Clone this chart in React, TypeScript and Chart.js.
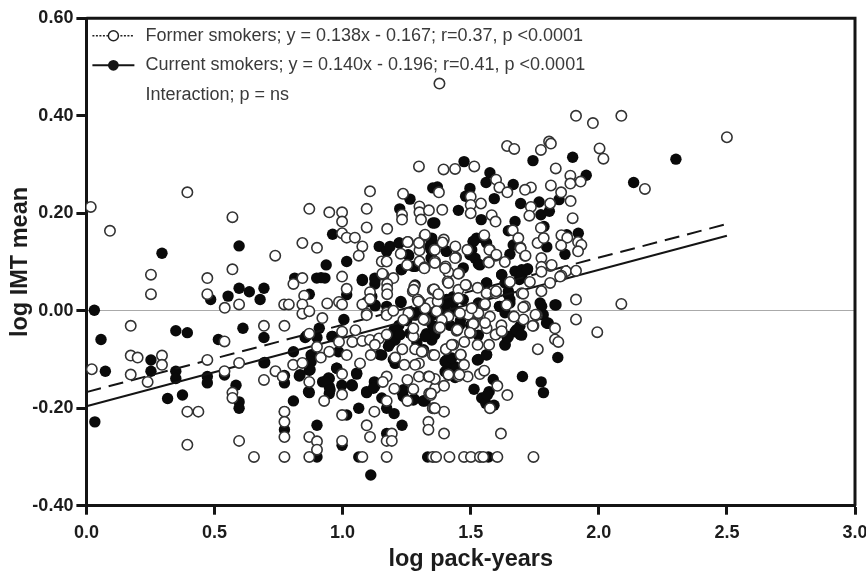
import React, { useEffect, useRef } from "react";
import { Chart, registerables } from "chart.js";

Chart.register(...registerables);

const xTickValues = [0, 0.5, 1, 1.5, 2, 2.5, 3];
const yTickValues = [-0.4, -0.2, 0, 0.2, 0.4, 0.6];
const xTitle = "log pack-years";
const yTitle = "log IMT mean";
const legendLines = [
  "Former smokers; y = 0.138x - 0.167; r=0.37, p <0.0001",
  "Current smokers; y = 0.140x - 0.196; r=0.41, p <0.0001",
  "Interaction; p = ns",
];
const fitX = [0, 2.5];
const formerFit = [-0.167, 0.178];
const currentFit = [-0.196, 0.154];

const formerPoints: number[][] = [
  [.017,.213],[.092,.164],[.394,.243],[.57,.192],[.252,.074],[.252,.034],[.472,.067],[.472,.034],[.54,.006],[.57,.085],
  [.596,.013],[.737,.113],[.772,.013],[.79,.013],[.843,.139],[.9,.129],[.87,.209],[.948,.202],[.998,.202],[.998,.183],
  [.998,.159],[1.016,.15],[1.048,.15],[1.077,.132],[1.063,.113],[1.094,.209],[1.094,.171],[1.107,.245],[1.174,.168],[1.236,.24],
  [1.298,.296],[1.232,.197],[1.232,.187],[1.3,.214],[1.3,.202],[1.306,.187],[1.337,.206],[1.255,.141],[1.3,.139],[1.32,.154],
  [1.3,.124],[1.227,.117],[1.153,.101],[1.172,.101],[1.252,.094],[1.3,.101],[1.32,.089],[.998,.07],[1.016,.045],[1.159,.074],
  [1.198,.067],[1.174,.055],[1.174,.045],[1.174,.034],[1.107,.038],[.843,.067],[.808,.055],[.85,.031],[.843,.013],[.843,-.006],
  [.87,-.001],[.921,-.015],[.94,.015],[.986,.018],[.998,.013],[1.077,.013],[1.094,-.006],[1.172,-.004],[1.274,.04],[1.28,.05],
  [1.3,.019],[1.342,.016],[1.352,.043],
  [1.378,.466],[1.911,.4],[1.977,.385],[2.088,.4],[2.5,.356],[2.18,.25],[1.642,.338],[1.67,.332],[1.806,.347],[1.813,.343],
  [1.774,.33],[2.003,.333],[2.018,.312],[1.832,.292],[1.889,.277],[1.889,.261],[1.929,.265],[1.813,.257],[1.853,.243],[1.89,.225],
  [1.81,.22],[1.735,.253],[1.712,.248],[1.735,.213],[1.729,.195],[1.898,.19],[1.394,.29],[1.439,.291],[1.514,.296],[1.599,.269],
  [1.612,.253],[1.643,.243],[1.376,.243],[1.5,.234],[1.5,.217],[1.54,.22],[1.5,.2],[1.582,.196],[1.597,.183],[1.389,.207],
  [1.774,.17],[1.664,.165],[1.686,.149],[1.694,.13],[1.712,.113],[1.761,.139],[1.785,.149],[1.776,.108],[1.811,.092],[1.776,.09],
  [1.776,.08],[1.854,.155],[1.877,.15],[1.853,.134],[1.919,.141],[1.932,.135],[1.919,.122],[1.872,.081],[1.911,.082],[1.854,.072],
  [1.911,.023],[2.088,.014],[1.553,.155],[1.487,.125],[1.44,.132],[1.443,.109],[1.395,.146],[1.39,.14],[1.359,.125],[1.298,.139],
  [1.254,.141],[1.361,.101],[1.402,.091],[1.413,.079],[1.455,.077],[1.569,.1],[1.575,.125],[1.597,.113],[1.633,.1],[1.653,.059],
  [1.731,.059],[1.699,.036],[1.776,.04],[1.81,.057],[1.155,.076],[1.41,.06],[1.358,.043],[1.371,.035],[1.452,.043],[1.482,.053],
  [1.527,.047],[1.562,.036],[1.597,.036],[1.293,.023],[1.371,.019],[1.452,.026],[1.553,.012],[1.712,.009],
  [.173,-.031],[.021,-.12],[.173,-.092],[.2,-.096],[.173,-.131],[.295,-.092],[.295,-.111],[.239,-.146],[.472,-.101],[.539,-.063],
  [.539,-.124],[.596,-.107],[.57,-.168],[.57,-.179],[.394,-.207],[.437,-.207],[.394,-.275],[.596,-.267],[.654,-.3],[.693,-.031],
  [.773,-.031],[.693,-.142],[.738,-.124],[.766,-.135],[.773,-.207],[.773,-.228],[.773,-.259],[.773,-.3],[.807,-.111],[.843,-.107],
  [.87,-.047],[.87,-.146],[.87,-.259],[.87,-.3],[.9,-.268],[.9,-.285],[.928,-.185],[.915,-.096],[.9,-.074],[.948,-.084],
  [.998,-.043],[.986,-.064],[1.016,-.091],[1.038,-.064],[1.05,-.04],[1.077,-.062],[1.107,-.06],[1.11,-.091],[1.142,-.057],[1.126,-.07],
  [1.172,-.049],[1.068,-.108],[.998,-.13],[.998,-.172],[.998,-.214],[.998,-.267],[1.094,-.235],[1.107,-.259],[1.077,-.3],[1.124,-.207],
  [1.172,-.135],[1.157,-.146],[1.202,-.16],[1.172,-.185],[1.253,-.185],[1.192,-.252],[1.172,-.267],[1.192,-.267],[1.172,-.3],[1.335,-.228],
  [1.335,-.244],[1.352,-.3],[1.205,-.096],[1.233,-.079],[1.241,-.111],[1.253,-.142],[1.276,-.161],[1.298,-.135],[1.335,-.135],[1.298,-.108],
  [1.283,-.111],[1.283,-.079],[1.313,-.084],[1.338,-.17],[1.352,-.2],[1.352,-.091],[1.276,-.053],[1.276,-.036],[1.322,-.019],[1.172,-.009],[1.094,-.009],
  [1.911,-.018],[1.994,-.044],[1.762,-.079],[1.829,-.036],[1.829,-.059],[1.842,-.064],[1.745,-.031],[1.758,-.009],[1.706,-.018],[1.667,-.012],
  [1.621,-.043],[1.598,-.049],[1.575,-.012],[1.562,-.036],[1.572,-.07],[1.527,-.009],[1.495,-.009],[1.513,-.026],[1.501,-.045],[1.445,-.041],
  [1.413,-.012],[1.376,-.036],[1.475,-.064],[1.432,-.07],[1.404,-.079],[1.527,-.07],[1.461,-.091],[1.474,-.111],[1.358,-.091],[1.309,-.084],
  [1.344,-.173],[1.361,-.159],[1.396,-.154],[1.358,-.2],[1.396,-.207],[1.396,-.252],[1.413,-.132],[1.488,-.135],[1.452,-.134],[1.536,-.13],
  [1.553,-.123],[1.604,-.154],[1.643,-.173],[1.575,-.2],[1.618,-.252],[1.365,-.3],[1.417,-.3],[1.474,-.3],[1.501,-.3],[1.536,-.3],
  [1.549,-.3],[1.604,-.3],[1.745,-.3],
  [1.322,.156],[1.36,.125],[1.439,.108],[1.573,.125],[1.6,.115],[1.571,.099],[1.695,.128],[1.714,.113],[1.705,.035],[1.816,.094],
  [1.849,.07],[1.319,.087],[1.36,.098],[1.4,.087],[1.452,.076],[1.413,.057],[1.48,.053],[1.599,.04],[1.357,.044],[1.374,.034],
  [1.705,.007],[1.753,-.008],[1.669,-.012],[1.53,-.005],[1.49,-.008],[1.458,-.005],[1.387,-.019],[1.51,-.027],[1.556,-.025],[1.62,-.03],
  [1.64,.012],[1.556,.014],[1.504,.005],[1.322,.005],[1.367,-.001],[1.107,.024],[1.277,.043],[1.296,.019],[1.257,-.005],[1.316,-.018],
  [1.237,-.019],[1.198,0],[1.38,-.034],[1.448,-.039],[1.497,-.045],[1.597,-.049],[1.621,-.042],[1.742,-.031],[1.403,-.079],[1.426,-.07],
  [1.461,-.09],[1.413,-.131],[1.456,-.131],[1.36,-.14],[1.338,-.135],[1.345,-.17],[1.36,-.2],
];

const currentPoints: number[][] = [
  [.031,.001],[.295,.118],[.485,.023],[.553,.03],[.596,.133],[.596,.046],[.636,.039],[.678,.023],[.693,.046],[.813,.067],
  [.87,.034],[.936,.094],[.899,.067],[.916,.068],[.931,.067],[.961,.157],[1.016,.101],[1.016,.033],[1.077,.062],[1.126,.067],
  [1.126,.055],[1.126,.012],[1.094,.018],[1.143,.132],[1.172,.122],[1.185,.132],[1.221,.139],[1.223,.209],[1.263,.229],[1.352,.252],
  [1.352,.18],[1.258,.113],[1.231,.085],[1.276,.091],[1.345,.125],[1.345,.108],[1.172,.009],[1.228,.017],[1.274,-.004],[1.005,-.018],
  [1.474,.306],[1.743,.308],[1.898,.315],[1.951,.278],[2.136,.263],[2.301,.311],[1.575,.283],[1.56,.263],[1.666,.259],[1.497,.251],
  [1.48,.235],[1.592,.23],[1.695,.22],[1.767,.223],[1.774,.197],[1.807,.204],[1.845,.228],[1.37,.254],[1.452,.206],[1.36,.18],
  [1.541,.187],[1.673,.183],[1.647,.164],[1.786,.173],[1.797,.131],[1.92,.159],[1.868,.116],[1.875,.156],[1.221,.139],[1.256,.115],
  [1.229,.084],[1.283,.091],[1.348,.149],[1.341,.132],[1.404,.122],[1.51,.142],[1.523,.149],[1.504,.125],[1.562,.139],[1.517,.108],
  [1.53,.096],[1.471,.088],[1.653,.116],[1.666,.135],[1.673,.081],[1.699,.084],[1.722,.086],[1.69,.064],[1.621,.074],[1.634,.057],
  [1.647,.04],[1.283,.053],[1.38,.023],[1.406,.023],[1.432,.016],[1.562,.057],[1.53,.016],[1.612,.009],[1.653,.023],[1.771,.016],[1.833,.012],
  [.057,-.059],[.074,-.124],[.033,-.228],[.252,-.101],[.252,-.124],[.349,-.041],[.394,-.045],[.349,-.124],[.349,-.139],[.317,-.18],
  [.375,-.173],[.515,-.059],[.472,-.135],[.472,-.148],[.539,-.132],[.584,-.153],[.596,-.187],[.596,-.2],[.611,-.036],[.693,-.055],
  [.693,-.107],[.773,-.148],[.773,-.133],[.773,-.207],[.773,-.244],[.808,-.084],[.808,-.185],[.831,-.134],[.854,-.055],[.877,-.091],
  [.877,-.105],[.87,-.122],[.87,-.168],[.9,-.055],[.909,-.036],[.9,-.235],[.9,-.3],[.922,-.146],[.948,-.139],[.948,-.156],
  [.948,-.17],[.961,-.053],[.977,-.118],[.984,-.084],[.997,-.153],[1.016,-.214],[.998,-.276],[1.038,-.154],[1.055,-.13],[1.063,-.2],
  [1.063,-.3],[1.094,-.168],[1.11,-.337],[1.124,-.146],[1.126,-.155],[1.153,-.091],[1.153,-.179],[1.172,-.2],[1.201,-.211],[1.232,-.235],
  [1.172,-.252],[1.185,-.067],[1.205,-.06],[1.205,-.108],[1.276,-.183],[1.315,-.185],[1.233,-.168],[1.332,-.3],[1.283,-.009],[1.328,-.047],[1.348,-.06],
  [1.84,-.096],[1.802,-.026],[1.693,-.049],[1.673,-.043],[1.634,-.07],[1.647,-.053],[1.702,-.135],[1.775,-.146],[1.784,-.168],[1.513,-.161],
  [1.588,-.141],[1.572,-.166],[1.543,-.179],[1.559,-.19],[1.591,-.194],[1.565,-.173],[1.569,-.3],[1.526,-.101],[1.562,-.091],[1.406,-.101],
  [1.419,-.111],[1.406,-.122],[1.439,-.115],[1.439,-.137],[1.322,-.185],[1.237,-.176],
  [1.3,0],[1.33,.012],[1.36,.005],[1.39,-.01],[1.25,-.02],[1.22,-.03],[1.2,-.04],[1.35,-.03],[1.42,-.03],[1.44,0],
  [1.46,-.02],[1.5,-.03],[1.53,-.05],[1.614,.009],[1.634,-.004],[1.783,-.008],[1.802,-.025],
  [1.227,.019],[1.283,-.008],[1.127,.01],[1.114,.029],[1.127,.064],[1.077,.064],[.696,-.106],[.88,-.09],[.873,-.104],[.834,-.131],
  [.873,-.121],[.867,-.166],[.945,-.138],[.977,-.118],[1.055,-.128],[.932,-.145],[.951,-.162],[1.036,-.152],[1.094,-.166],[1.12,-.159],
  [1.146,-.09],[1.198,-.1],[1.179,-.073],[1.224,-.049],[1.263,-.046],[1.29,-.066],[1.316,-.08],[.958,-.053],[.86,-.051],[1.237,-.162],
  [1.279,-.181],[1.316,-.185],[1.51,.142],[1.549,.149],[1.497,.115],[1.536,.094],[1.348,.142],[1.406,.122],[1.348,.108],[1.621,.074],
  [1.7,.074],[1.721,.084],[1.562,.057],[1.647,.033],[1.653,.016],[1.556,.012],[1.471,.023],[1.419,.023],[1.393,.016],[1.367,.016],
  [1.341,.002],[1.4,.009],[1.354,-.008],[1.432,.029],[1.829,.012],[1.777,.009],[1.777,-.008],[1.692,-.032],[1.4,-.104],[1.426,-.097],
  [1.4,-.125],[1.445,-.118],[1.53,-.1],[1.562,-.09],[1.634,-.07],[1.643,-.056],[1.679,-.039],[1.699,-.05],[1.796,-.025],[1.36,-.049],
  [1.322,-.053],[1.458,-.029],
];

const INK = "#141414";

const framePlugin = {
  id: "frameAndKey",
  afterDraw(chart: any) {
    const { ctx, chartArea: a } = chart;
    ctx.save();
    ctx.strokeStyle = INK;
    ctx.lineWidth = 3;
    ctx.beginPath();
    ctx.moveTo(a.left, a.top);
    ctx.lineTo(a.right, a.top);
    ctx.lineTo(a.right, a.bottom);
    ctx.stroke();

    const keyLeft = a.left + 6;
    const keyRight = a.left + 48;
    const keyMid = (keyLeft + keyRight) / 2;
    const textX = a.left + 59;
    const rows = [a.top + 17.5, a.top + 47, a.top + 77];

    ctx.lineWidth = 1.5;
    ctx.strokeStyle = "#222";
    ctx.setLineDash([2, 1.5]);
    ctx.beginPath();
    ctx.moveTo(keyLeft, rows[0]);
    ctx.lineTo(keyRight, rows[0]);
    ctx.stroke();
    ctx.setLineDash([]);
    ctx.beginPath();
    ctx.arc(keyMid, rows[0], 5, 0, Math.PI * 2);
    ctx.fillStyle = "#fff";
    ctx.fill();
    ctx.stroke();

    ctx.lineWidth = 2;
    ctx.strokeStyle = INK;
    ctx.beginPath();
    ctx.moveTo(keyLeft, rows[1]);
    ctx.lineTo(keyRight, rows[1]);
    ctx.stroke();
    ctx.beginPath();
    ctx.arc(keyMid, rows[1], 5.4, 0, Math.PI * 2);
    ctx.fillStyle = INK;
    ctx.fill();

    ctx.fillStyle = "#3a3a3a";
    ctx.font = '18px "Liberation Sans"';
    ctx.textBaseline = "middle";
    ctx.textAlign = "left";
    legendLines.forEach((line, i) => ctx.fillText(line, textX, rows[i]));
    ctx.restore();
  },
};

export default function App() {
  const ref = useRef<HTMLCanvasElement>(null);

  useEffect(() => {
    const chart = new Chart(ref.current as HTMLCanvasElement, {
      type: "scatter",
      data: {
        datasets: [
          {
            label: "Former smokers",
            data: formerPoints.map(([x, y]) => ({ x, y })),
            backgroundColor: "#fff",
            borderColor: "#333",
            borderWidth: 1.6,
            pointRadius: 5.2,
            order: 1,
          },
          {
            type: "line",
            label: "Former fit",
            data: fitX.map((x, i) => ({ x, y: formerFit[i] })),
            borderColor: INK,
            borderWidth: 2,
            borderDash: [15, 8],
            pointRadius: 0,
            order: 2,
          },
          {
            type: "line",
            label: "Current fit",
            data: fitX.map((x, i) => ({ x, y: currentFit[i] })),
            borderColor: INK,
            borderWidth: 2,
            pointRadius: 0,
            order: 3,
          },
          {
            label: "Current smokers",
            data: currentPoints.map(([x, y]) => ({ x, y })),
            backgroundColor: "#0a0a0a",
            borderColor: "#0a0a0a",
            borderWidth: 0,
            pointRadius: 5.7,
            order: 4,
          },
        ],
      } as any,
      options: {
        animation: false,
        responsive: false,
        layout: { padding: { left: 0, right: 11, top: 18.3, bottom: 0 } },
        plugins: { legend: { display: false }, tooltip: { enabled: false } },
        scales: {
          x: {
            type: "linear",
            min: 0,
            max: 3,
            afterBuildTicks: (s: any) => {
              s.ticks = xTickValues.map((value) => ({ value }));
            },
            afterFit: (s: any) => {
              s.height = 65.3;
              s.paddingLeft = 0;
              s.paddingRight = 0;
            },
            border: { color: INK, width: 3 },
            grid: { drawOnChartArea: false, tickColor: INK, tickWidth: 3, tickLength: 9 },
            ticks: {
              color: "#1c1c1c",
              padding: 8,
              maxRotation: 0,
              font: { family: "Liberation Sans", size: 18, weight: "bold" },
              callback: (v: any) => Number(v).toFixed(1),
            },
            title: {
              display: true,
              text: xTitle,
              color: "#1c1c1c",
              padding: { top: -2.5, bottom: 0 },
              font: { family: "Liberation Sans", size: 23.5, weight: "bold", lineHeight: 1 },
            },
          },
          y: {
            type: "linear",
            min: -0.4,
            max: 0.6,
            afterBuildTicks: (s: any) => {
              s.ticks = yTickValues.map((value) => ({ value }));
            },
            afterFit: (s: any) => {
              s.width = 86.4;
            },
            border: { color: INK, width: 3 },
            grid: {
              color: (c: any) => (Math.abs(c.tick?.value ?? 1) < 1e-6 ? "#aaa" : "rgba(0,0,0,0)"),
              lineWidth: 1,
              tickColor: INK,
              tickWidth: 3,
              tickLength: 10,
            },
            ticks: {
              color: "#1c1c1c",
              padding: 3,
              font: { family: "Liberation Sans", size: 18, weight: "bold" },
              callback: (v: any) => Number(v).toFixed(2),
            },
            title: {
              display: true,
              text: yTitle,
              color: "#1c1c1c",
              padding: { top: 9, bottom: 0 },
              font: { family: "Liberation Sans", size: 23.5, weight: "bold", lineHeight: 1 },
            },
          },
        },
      } as any,
      plugins: [framePlugin],
    });
    return () => chart.destroy();
  }, []);

  return (
    <canvas
      ref={ref}
      width={866}
      height={571}
      style={{ position: "absolute", left: 0, top: 0, width: 866, height: 571 }}
    />
  );
}
